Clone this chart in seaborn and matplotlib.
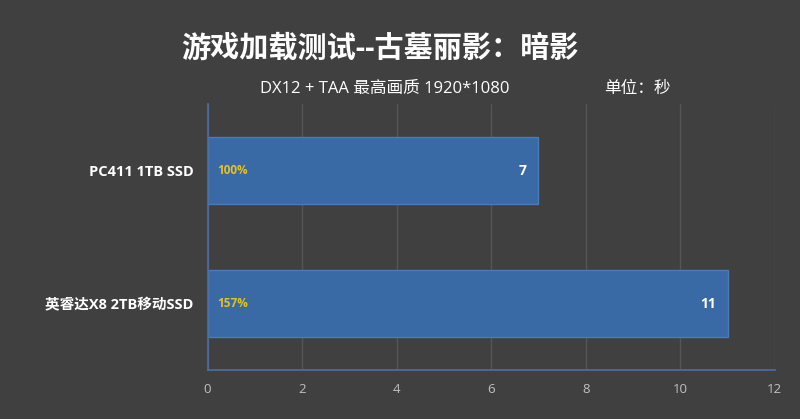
import matplotlib
matplotlib.use("Agg")
import matplotlib.pyplot as plt
import seaborn as sns
import pandas as pd

categories = ["PC411 1TB SSD", "英睿达X8 2TB移动SSD"]
values = [7, 11]
percent_labels = ["100%", "157%"]
xticks = [0, 2, 4, 6, 8, 10, 12]

title = "游戏加载测试--古墓丽影：暗影"
subtitle = "DX12 + TAA 最高画质 1920*1080"
unit = "单位：秒"

bg = "#404040"
sns.set_theme(style="dark")
plt.rcParams['font.family'] = ['Open Sans', 'Noto Sans CJK SC', 'DejaVu Sans']

df = pd.DataFrame({"name": categories, "value": values})

fig = plt.figure(figsize=(8, 4.19), dpi=100, facecolor=bg)
ax = fig.add_axes([0.2595, 0.1169, 0.709, 0.6349])
ax.set_facecolor(bg)

sns.barplot(data=df, y="name", x="value", orient="h", color="#3a6aa5",
            saturation=1, width=0.5, edgecolor="#4a7ab8", linewidth=1, ax=ax)

ax.set_xlim(0, 12)
ax.set_ylim(1.5, -0.5)
ax.set_xticks(xticks)
ax.set_xticklabels([str(t) for t in xticks], color="#c0c0c0", fontsize=9.5)
ax.set_yticks(range(len(categories)))
ax.set_yticklabels(categories, color="white", fontsize=10.5, fontweight="bold")
ax.tick_params(axis="y", length=0, pad=10)
ax.tick_params(axis="x", length=0, pad=9)
ax.set_xlabel("")
ax.set_ylabel("")
ax.grid(axis="x", color="#555555", linewidth=1)
ax.grid(axis="y", visible=False)
ax.set_axisbelow(True)
for s in ["top", "right"]:
    ax.spines[s].set_visible(False)
for s in ["left", "bottom"]:
    ax.spines[s].set_visible(True)
    ax.spines[s].set_color("#4a6fa8")
    ax.spines[s].set_linewidth(1.2)

for i, (v, p) in enumerate(zip(values, percent_labels)):
    ax.text(v - 0.25, i, str(v), color="white", fontsize=10, fontweight="bold",
            ha="right", va="center")
    ax.text(0.2, i, p, color="#e8c020", fontsize=8.5, fontweight="bold",
            ha="left", va="center")

fig.text(0.475, 0.883, title, color="white", fontsize=21, fontweight="bold",
         ha="center", va="center")
fig.text(0.481, 0.787, subtitle, color="white", fontsize=12, ha="center", va="center")
fig.text(0.797, 0.787, unit, color="white", fontsize=12, ha="center", va="center")

fig.savefig("out.png", dpi=100, facecolor=bg)
